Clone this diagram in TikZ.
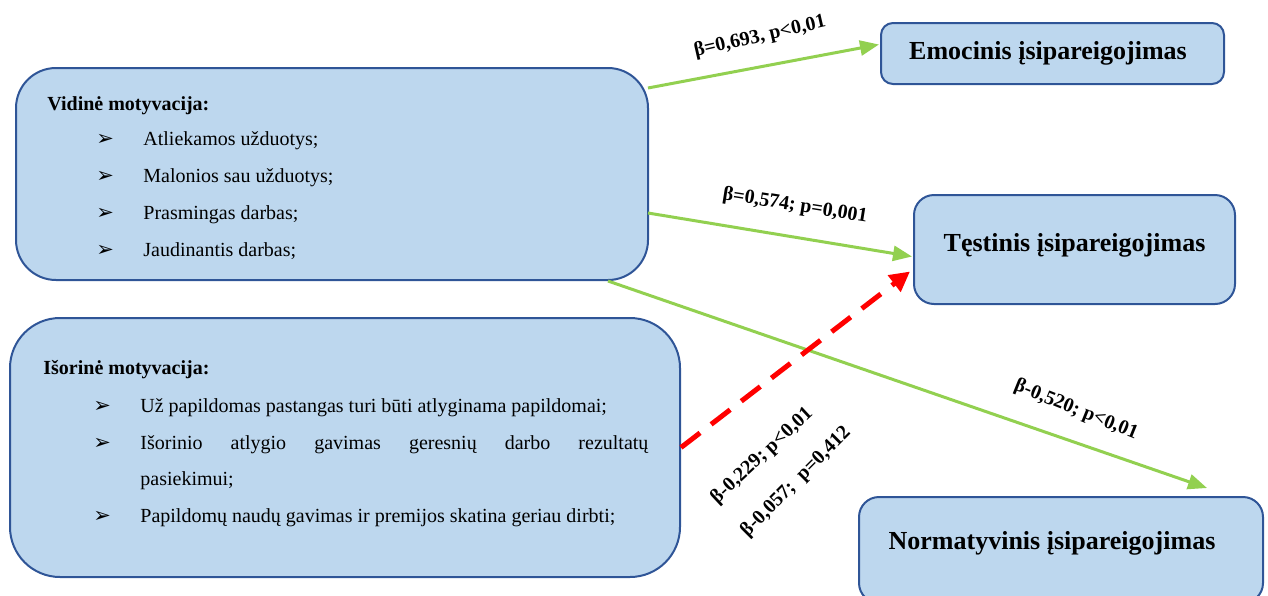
\documentclass[tikz,border=0pt]{standalone}
\usepackage{fontspec}
\setmainfont{Liberation Serif}
\newfontfamily\symfont{DejaVu Sans}
\usetikzlibrary{arrows.meta,calc}
\definecolor{boxfill}{HTML}{BDD7EE}
\definecolor{boxline}{HTML}{2F5597}
\definecolor{linkgreen}{HTML}{92D050}
\definecolor{linkred}{HTML}{FF0000}
\begin{document}
\begin{tikzpicture}[x=0.5pt,y=-0.5pt,
  mbox/.style={draw=boxline, line width=1pt, fill=boxfill, rounded corners=#1,
    rectangle, inner sep=0pt},
  bodytext/.style={anchor=base west, inner sep=0pt, font=\fontsize{10pt}{12pt}\selectfont},
  headtext/.style={anchor=base west, inner sep=0pt, font=\fontsize{10pt}{12pt}\selectfont\bfseries},
  bullet/.style={anchor=base west, inner sep=0pt, font=\fontsize{10.5pt}{12pt}\symfont},
  outcome/.style={inner sep=0pt, font=\fontsize{13pt}{15pt}\selectfont\bfseries},
  coef/.style={inner sep=0pt, font=\fontsize{10pt}{11pt}\selectfont\bfseries},
  greenlink/.style={draw=linkgreen, line width=1.5pt, -{Triangle[length=9.5pt,width=7.5pt]}},
  redlink/.style={draw=linkred, line width=2.5pt, dash pattern=on 12pt off 7pt,
    -{Triangle[length=10pt,width=10pt]}}]
\useasboundingbox (0,0) rectangle (1268,595);

% predictor boxes
\node[mbox=20pt, minimum width=316pt, minimum height=106pt] (vid) at (332,174) {};
\node[mbox=25pt, minimum width=335pt, minimum height=129.5pt] (isor) at (345,447.5) {};

% outcome boxes
\node[mbox=6pt, minimum width=171.5pt, minimum height=30.5pt] (emo) at (1052.5,53.5) {};
\node[mbox=10pt, minimum width=160.5pt, minimum height=54.5pt] (test) at (1074.5,249.5) {};
\node[mbox=10pt, minimum width=202pt, minimum height=53pt] (norm) at (1061,550) {};

\node[outcome] (emoT) at (1048,53) {Emocinis įsipareigojimas};
\node[outcome] (testT) at (1074.5,245) {Tęstinis įsipareigojimas};
\node[outcome] (normT) at (1052,543) {Normatyvinis įsipareigojimas};

% intrinsic motivation items
\node[headtext] (vidH) at (47,110) {Vidinė motyvacija:};
\node[bullet] (vb1) at (96,145) {➢};
\node[bodytext] (vi1) at (143,145) {Atliekamos užduotys;};
\node[bullet] (vb2) at (96,182) {➢};
\node[bodytext] (vi2) at (143,182) {Malonios sau užduotys;};
\node[bullet] (vb3) at (96,219) {➢};
\node[bodytext] (vi3) at (143,219) {Prasmingas darbas;};
\node[bullet] (vb4) at (96,256) {➢};
\node[bodytext] (vi4) at (143,256) {Jaudinantis darbas;};

% extrinsic motivation items
\node[headtext] (isH) at (43,374) {Išorinė motyvacija:};
\node[bullet] (ib1) at (93,412) {➢};
\node[bodytext] (ii1) at (140,412) {Už papildomas pastangas turi būti atlyginama papildomai;};
\node[bullet] (ib2) at (93,449) {➢};
\node[bodytext] (ii2) at (140,449) {\hbox to 254pt{Išorinio\hfill atlygio\hfill gavimas\hfill geresnių\hfill darbo\hfill rezultatų}};
\node[bodytext] (ii2b) at (140,485) {pasiekimui;};
\node[bullet] (ib3) at (93,522) {➢};
\node[bodytext] (ii3) at (140,522) {Papildomų naudų gavimas ir premijos skatina geriau dirbti;};

% paths
\coordinate (s1) at (648,88);
\coordinate (s2) at (648,213);
\coordinate (s3) at (608,281);
\draw[greenlink] (s1) -- ($(emo.west)+(-1,-9)$);
\draw[greenlink] (s2) -- ($(test.west)+(-1,7)$);
\draw[greenlink] (s3) -- ($(norm.north)+(146,-8)$);
\draw[redlink] (isor.east) -- ($(test.west)+(-3,22)$);

% coefficients
\node[coef, rotate=13] (c1) at (760,37) {β=0,693, p<0,01};
\node[coef, rotate=-9] (c2) at (795,206) {β=0,574; p=0,001};
\node[coef, rotate=-22] (c3) at (1076,410) {β-0,520; p<0,01};
\node[coef, rotate=43] (c4) at (762,456) {β-0,229; p<0,01};
\node[coef, rotate=45] (c5) at (796,482) {β-0,057;\ \ p=0,412};
\end{tikzpicture}
\end{document}
